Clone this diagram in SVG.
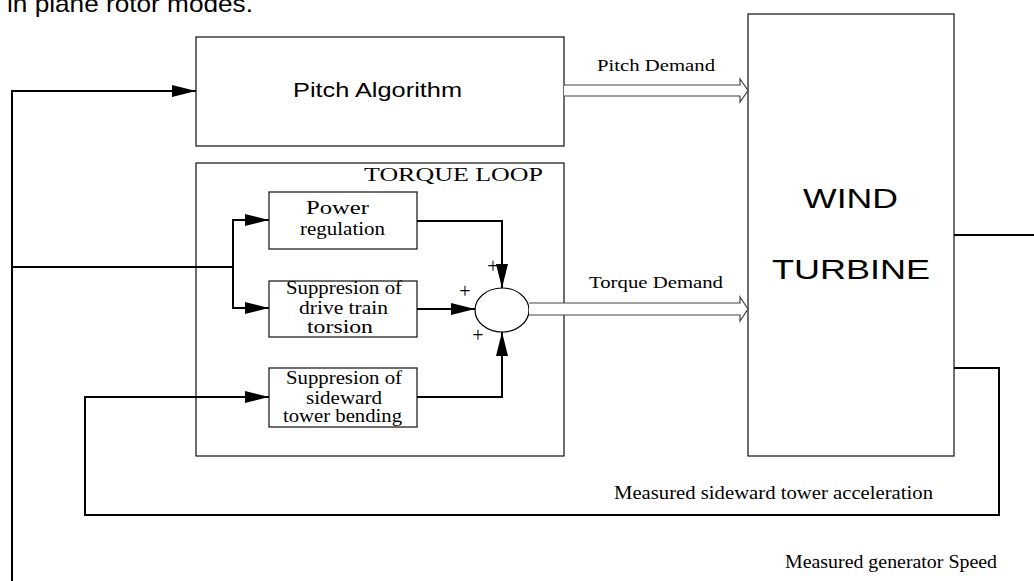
<svg xmlns="http://www.w3.org/2000/svg" width="1034" height="581" viewBox="0 0 1034 581">
<style>
.box{fill:#fff;stroke:#222;stroke-width:1.3}
.wire{fill:none;stroke:#000;stroke-width:2}
.hollow{fill:#fff;stroke:#444;stroke-width:1.2;stroke-linejoin:miter}
.sans{font-family:"Liberation Sans",Arial,sans-serif;fill:#000}
.serif{font-family:"Liberation Serif","Times New Roman",serif;fill:#000}
.plus{font-family:"Liberation Serif","Times New Roman",serif;fill:#000;font-size:20px;text-anchor:middle}
</style>
<defs>
<marker id="ah" viewBox="0 0 24 12" refX="24" refY="6" markerWidth="24" markerHeight="12" markerUnits="userSpaceOnUse" orient="auto">
<path d="M0,0 L24,6 L0,12 Z" fill="#000"/>
</marker>
</defs>
<rect width="1034" height="581" fill="#fff"/>
<text class="sans" x="7" y="12" font-size="24" textLength="246" lengthAdjust="spacingAndGlyphs">in plane rotor modes.</text>

<g id="pitch-algorithm">
<rect class="box" x="196" y="37" width="368" height="109"/>
<text class="sans" x="293" y="97" font-size="21" textLength="169" lengthAdjust="spacingAndGlyphs">Pitch Algorithm</text>
</g>

<g id="torque-loop">
<rect class="box" x="196" y="163" width="368" height="293"/>
<text class="serif" x="364" y="181" font-size="19" textLength="179" lengthAdjust="spacingAndGlyphs">TORQUE LOOP</text>
</g>

<g id="wind-turbine">
<rect class="box" x="748" y="14" width="206" height="442"/>
<text class="sans" x="803" y="208" font-size="28" textLength="95" lengthAdjust="spacingAndGlyphs">WIND</text>
<text class="sans" x="772" y="279" font-size="28" textLength="158" lengthAdjust="spacingAndGlyphs">TURBINE</text>
</g>

<g id="power-regulation">
<rect class="box" x="269" y="192" width="148" height="57"/>
<text class="serif" x="306" y="214" font-size="18" textLength="63" lengthAdjust="spacingAndGlyphs">Power</text>
<text class="serif" x="300" y="235" font-size="18" textLength="85" lengthAdjust="spacingAndGlyphs">regulation</text>
</g>

<g id="drive-train">
<rect class="box" x="269" y="281" width="148" height="56"/>
<text class="serif" x="286" y="294" font-size="18" textLength="116" lengthAdjust="spacingAndGlyphs">Suppresion of</text>
<text class="serif" x="299" y="314" font-size="18" textLength="89" lengthAdjust="spacingAndGlyphs">drive train</text>
<text class="serif" x="307" y="333" font-size="18" textLength="66" lengthAdjust="spacingAndGlyphs">torsion</text>
</g>

<g id="tower-bending">
<rect class="box" x="269" y="368" width="148" height="59"/>
<text class="serif" x="286" y="384" font-size="18" textLength="116" lengthAdjust="spacingAndGlyphs">Suppresion of</text>
<text class="serif" x="306" y="404" font-size="18" textLength="76" lengthAdjust="spacingAndGlyphs">sideward</text>
<text class="serif" x="283" y="422" font-size="18" textLength="119" lengthAdjust="spacingAndGlyphs">tower bending</text>
</g>

<g id="sum">
<ellipse cx="502" cy="310" rx="27" ry="22" fill="#fff" stroke="#000" stroke-width="1.2"/>
<text class="plus" x="493" y="273">+</text>
<text class="plus" x="465" y="298">+</text>
<text class="plus" x="478" y="342">+</text>
</g>

<g id="connectors">
<path class="wire" d="M12,581 V91 H196" marker-end="url(#ah)"/>
<path class="wire" d="M12,267 H233"/>
<path class="wire" d="M233,267 V220 H269" marker-end="url(#ah)"/>
<path class="wire" d="M233,267 V308 H269" marker-end="url(#ah)"/>
<path class="wire" d="M417,221 H502 V288" marker-end="url(#ah)"/>
<path class="wire" d="M417,309 H475" marker-end="url(#ah)"/>
<path class="wire" d="M417,397 H502 V332" marker-end="url(#ah)"/>
<path class="wire" d="M954,368 H999 V515 H85 V397 H269" marker-end="url(#ah)"/>
<path class="wire" d="M954,235 H1034" stroke-width="1.5"/>
<path class="hollow" d="M564,85 H740 V79 L748,90.5 L740,102 V96 H564"/>
<path class="hollow" d="M529,303 H740 V297 L748,309 L740,321 V315 H529"/>
<text class="serif" x="597" y="71" font-size="17" textLength="118" lengthAdjust="spacingAndGlyphs">Pitch Demand</text>
<text class="serif" x="589" y="288" font-size="17" textLength="134" lengthAdjust="spacingAndGlyphs">Torque Demand</text>
<text class="serif" x="614" y="499" font-size="18" textLength="319" lengthAdjust="spacingAndGlyphs">Measured sideward tower acceleration</text>
<text class="serif" x="785" y="568" font-size="18" textLength="212" lengthAdjust="spacingAndGlyphs">Measured generator Speed</text>
</g>
</svg>
